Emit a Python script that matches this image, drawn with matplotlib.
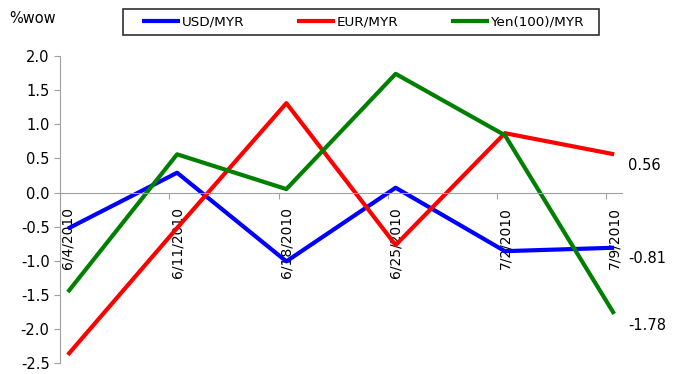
import matplotlib
matplotlib.use("Agg")
import matplotlib.pyplot as plt
import matplotlib.dates as mdates
from matplotlib.patches import Rectangle
import pandas as pd

# weekly % change of ringgit crosses
dates = ["2010-06-04", "2010-06-11", "2010-06-18", "2010-06-25", "2010-07-02", "2010-07-09"]
date_labels = ["6/4/2010", "6/11/2010", "6/18/2010", "6/25/2010", "7/2/2010", "7/9/2010"]
usd_myr = [-0.53, 0.29, -1.01, 0.07, -0.86, -0.81]
eur_myr = [-2.38, -0.52, 1.31, -0.77, 0.87, 0.56]
yen_myr = [-1.46, 0.56, 0.05, 1.74, 0.84, -1.78]
y_ticks = [-2.5, -2.0, -1.5, -1.0, -0.5, 0.0, 0.5, 1.0, 1.5, 2.0]

x = mdates.date2num(pd.to_datetime(dates))

plt.rcParams['font.family'] = 'DejaVu Sans'
fig = plt.figure(figsize=(6.82, 3.74), dpi=100)
ax = fig.add_axes([0.088, 0.0294, 0.824, 0.8206])

series = [(usd_myr, 'USD/MYR', (0, 0, 1)),
          (eur_myr, 'EUR/MYR', (1, 0, 0)),
          (yen_myr, 'Yen(100)/MYR', (0, 0.5, 0))]
for vals, name, col in series:
    ax.plot(x, vals, color=col, lw=3, label=name, solid_capstyle='butt')
    ax.annotate(f"{vals[-1]:.2f}", xy=(x[-1], vals[-1]), xytext=(10, -8),
                textcoords='offset points', ha='left', va='center', fontsize=10.5)

ax.set_xlim(x[0] - 0.5, x[-1] + 0.5)
ax.set_ylim(-2.5, 2.0)
ax.set_yticks(y_ticks)
ax.set_yticklabels([f"{v:.1f}" for v in y_ticks], fontsize=10.5)

# category ticks sit half a day before each point, labels on the points
ax.set_xticks(x - 0.5)
ax.set_xticklabels([])
ax.set_xticks(x, minor=True)
ax.set_xticklabels(date_labels, minor=True, fontsize=11.2)
ax.tick_params(axis='x', which='major', direction='out', length=4, color='#a0a0a0')
ax.tick_params(axis='x', which='minor', length=0, pad=10.5, labelrotation=90)
for lbl in ax.get_xticklabels(minor=True):
    lbl.set_va('top')
    lbl.set_ha('center')
ax.tick_params(axis='y', direction='out', length=4, color='#a0a0a0')

for s in ['top', 'right']:
    ax.spines[s].set_visible(False)
ax.spines['bottom'].set_position(('data', 0))
ax.spines['bottom'].set_color('#a0a0a0')
ax.spines['left'].set_color('#a0a0a0')

fig.text(0.013, 0.95, "%wow", fontsize=10.5, va='center')

fig.legend(loc='center', bbox_to_anchor=(0.533, 0.941), ncol=3, fontsize=9.7,
           frameon=False, handlelength=2.8, handletextpad=0.15, columnspacing=3.9)
fig.add_artist(Rectangle((123 / 682, 1 - 35 / 374), 476 / 682, 26 / 374,
                         transform=fig.transFigure, fill=False,
                         edgecolor='#303030', lw=1.2))

fig.savefig("out.png", dpi=100)
